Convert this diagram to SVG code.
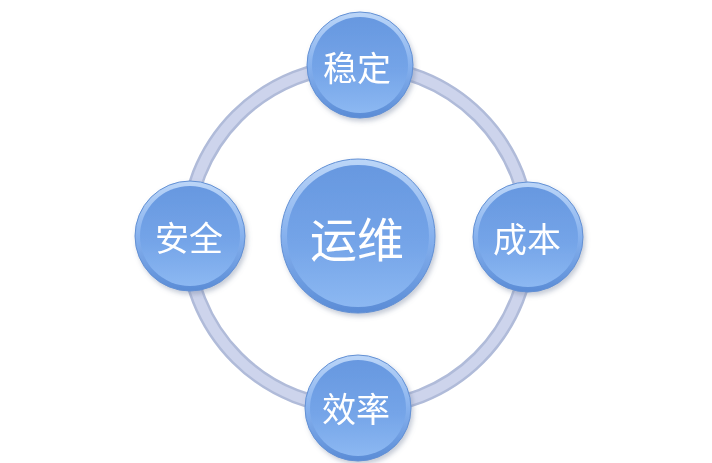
<svg xmlns="http://www.w3.org/2000/svg" width="712" height="463" viewBox="0 0 712 463">
<defs>
<linearGradient id="rim" x1="0" y1="0" x2="0" y2="1">
<stop offset="0" stop-color="#bcd6f8"/>
<stop offset="0.5" stop-color="#86b1ee"/>
<stop offset="1" stop-color="#5a8cd6"/>
</linearGradient>
<linearGradient id="face" x1="0" y1="0" x2="0" y2="1">
<stop offset="0" stop-color="#6798e0"/>
<stop offset="0.55" stop-color="#74a4e8"/>
<stop offset="1" stop-color="#8cb8f2"/>
</linearGradient>
<filter id="sh" x="-20%" y="-20%" width="140%" height="140%">
<feDropShadow dx="2" dy="3" stdDeviation="2.5" flood-color="#6a7a99" flood-opacity="0.4"/>
</filter>
</defs>
<style>
.rim{fill:url(#rim);stroke:#6290d4;stroke-width:1}
.face{fill:url(#face)}
.t{fill:#ffffff;font-family:"Noto Sans CJK SC","Noto Sans",sans-serif;text-anchor:middle;dominant-baseline:central}
.s{font-size:34px}
.b{font-size:47px}
</style>
<rect width="712" height="463" fill="#ffffff"/>
<g id="connectors">
<circle cx="358" cy="237" r="171" fill="none" stroke="#b0bbd9" stroke-width="15"/>
<circle cx="358" cy="237" r="171" fill="none" stroke="#cdd4ec" stroke-width="10"/>
</g>
<g id="center" filter="url(#sh)">
<circle class="rim" cx="358" cy="236" r="77"/>
<circle class="face" cx="358" cy="236" r="71"/>
<text class="t b" x="357" y="236">运维</text>
</g>
<g id="top" filter="url(#sh)">
<circle class="rim" cx="360" cy="65" r="53"/>
<circle class="face" cx="360" cy="65" r="48"/>
<text class="t s" x="357" y="66">稳定</text>
</g>
<g id="right" filter="url(#sh)">
<circle class="rim" cx="528" cy="237" r="55"/>
<circle class="face" cx="528" cy="237" r="50"/>
<text class="t s" x="527" y="237">成本</text>
</g>
<g id="bottom" filter="url(#sh)">
<circle class="rim" cx="358" cy="408" r="53"/>
<circle class="face" cx="358" cy="408" r="48"/>
<text class="t s" x="356" y="407">效率</text>
</g>
<g id="left" filter="url(#sh)">
<circle class="rim" cx="190" cy="236" r="55"/>
<circle class="face" cx="190" cy="236" r="50"/>
<text class="t s" x="189" y="236">安全</text>
</g>
</svg>
